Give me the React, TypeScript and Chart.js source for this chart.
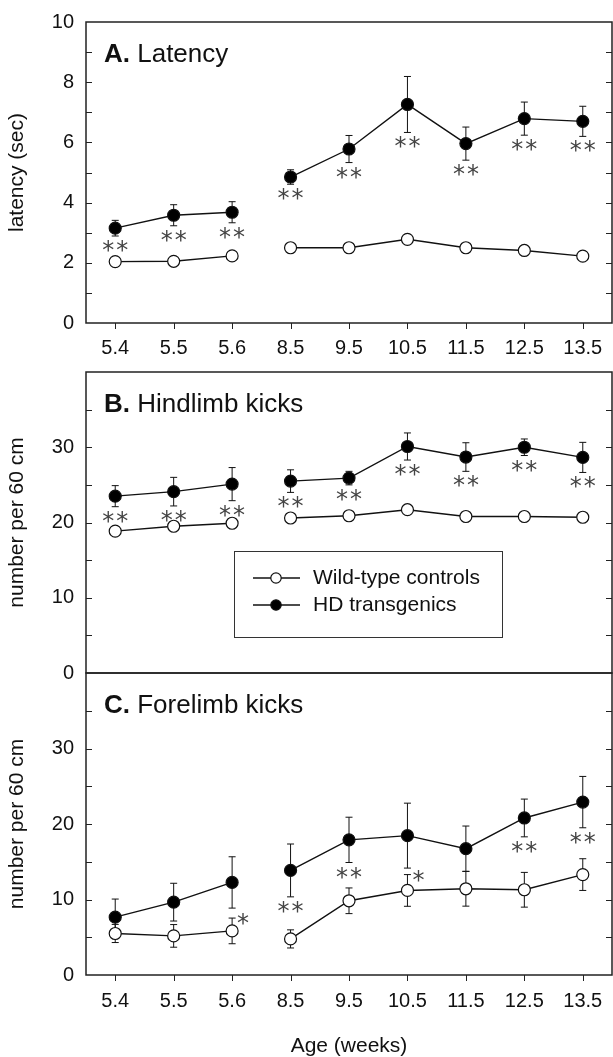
import React, { useEffect, useRef } from 'react';
import { Chart, registerables } from 'chart.js';

Chart.register(...registerables);

const FONT = '"Liberation Sans", Arial, Helvetica, sans-serif';
const STAR_FONT = '"DejaVu Sans", sans-serif';
const INK = '#111';

// ---------------- data ----------------
const ages = ['5.4', '5.5', '5.6', '8.5', '9.5', '10.5', '11.5', '12.5', '13.5'];
const breakAfterIndex = 2; // lines are not joined between 5.6 and 8.5
const seriesNames = ['Wild-type controls', 'HD transgenics'];

const latencyTickLabels = ['0', '2', '4', '6', '8', '10'];
const countTickLabels = ['0', '10', '20', '30'];

// A. Latency
const latencyWT = [2.04, 2.05, 2.23, 2.5, 2.5, 2.78, 2.5, 2.41, 2.22];
const latencyWTErr = [0.08, 0.08, 0.1, 0.1, 0.1, 0.15, 0.12, 0.1, 0.1];
const latencyHD = [3.15, 3.58, 3.68, 4.85, 5.78, 7.26, 5.96, 6.79, 6.7];
const latencyHDErr = [0.26, 0.35, 0.35, 0.24, 0.45, 0.93, 0.55, 0.55, 0.5];
const latencyStarsHD = ['**', '**', '**', '**', '**', '**', '**', '**', '**'];
const latencyStarsWT = ['', '', '', '', '', '', '', '', ''];

// B. Hindlimb kicks
const hindWT = [18.85, 19.5, 19.9, 20.6, 20.9, 21.7, 20.8, 20.8, 20.7];
const hindWTErr = [0.4, 0.4, 0.4, 0.4, 0.4, 0.5, 0.4, 0.4, 0.4];
const hindHD = [23.5, 24.1, 25.1, 25.5, 25.9, 30.1, 28.7, 30.0, 28.65];
const hindHDErr = [1.4, 1.9, 2.2, 1.5, 0.9, 1.8, 1.9, 1.1, 2.0];
const hindStarsHD = ['**', '**', '**', '**', '**', '**', '**', '**', '**'];
const hindStarsWT = ['', '', '', '', '', '', '', '', ''];

// C. Forelimb kicks
const foreWT = [5.5, 5.18, 5.84, 4.78, 9.83, 11.2, 11.42, 11.29, 13.3];
const foreWTErr = [1.2, 1.5, 1.7, 1.2, 1.7, 2.1, 2.3, 2.3, 2.1];
const foreHD = [7.66, 9.65, 12.26, 13.85, 17.9, 18.46, 16.73, 20.8, 22.9];
const foreHDErr = [2.4, 2.5, 3.4, 3.5, 3.0, 4.3, 3.0, 2.5, 3.4];
const foreStarsHD = ['', '', '', '**', '**', '', '', '**', '**'];
const foreStarsWT = ['', '', '*', '', '', '*', '', '', ''];

// ---------------- panels ----------------
type Panel = {
  key: string;
  letter: string;
  name: string;
  yTitle: string;
  yMax: number;
  yStep: number;
  tickLabels: string[];
  wt: number[];
  wtErr: number[];
  hd: number[];
  hdErr: number[];
  starsHD: string[];
  starsWT: string[];
  showX: boolean;
  xTitle: string | null;
  legend: boolean;
  box: { top: number; height: number; padTop: number; padBottom: number; xAxisHeight: number; xGap: number };
};

const panels: Panel[] = [
  {
    key: 'A', letter: 'A.', name: 'Latency', yTitle: 'latency (sec)', yMax: 10, yStep: 1,
    tickLabels: latencyTickLabels, wt: latencyWT, wtErr: latencyWTErr, hd: latencyHD, hdErr: latencyHDErr,
    starsHD: latencyStarsHD, starsWT: latencyStarsWT, showX: true, xTitle: null, legend: false,
    box: { top: 0, height: 360, padTop: 22, padBottom: 0, xAxisHeight: 37, xGap: 13 },
  },
  {
    key: 'B', letter: 'B.', name: 'Hindlimb kicks', yTitle: 'number per 60 cm', yMax: 40, yStep: 5,
    tickLabels: countTickLabels, wt: hindWT, wtErr: hindWTErr, hd: hindHD, hdErr: hindHDErr,
    starsHD: hindStarsHD, starsWT: hindStarsWT, showX: false, xTitle: null, legend: true,
    box: { top: 360, height: 330, padTop: 12, padBottom: 17, xAxisHeight: 0, xGap: 0 },
  },
  {
    key: 'C', letter: 'C.', name: 'Forelimb kicks', yTitle: 'number per 60 cm', yMax: 40, yStep: 5,
    tickLabels: countTickLabels, wt: foreWT, wtErr: foreWTErr, hd: foreHD, hdErr: foreHDErr,
    starsHD: foreStarsHD, starsWT: foreStarsWT, showX: true, xTitle: 'Age (weeks)', legend: false,
    box: { top: 660, height: 397, padTop: 13, padBottom: 0, xAxisHeight: 82, xGap: 14 },
  },
];

// ---------------- drawing helpers ----------------
function drawErrorBars(chart: any, values: number[], errs: number[]) {
  const { ctx, scales: { x, y } } = chart;
  ctx.save();
  ctx.strokeStyle = INK;
  ctx.lineWidth = 1;
  values.forEach((v, i) => {
    const px = x.getPixelForValue(i);
    const hi = y.getPixelForValue(v + errs[i]);
    const lo = y.getPixelForValue(v - errs[i]);
    ctx.beginPath();
    ctx.moveTo(px, hi);
    ctx.lineTo(px, lo);
    ctx.moveTo(px - 3.5, hi);
    ctx.lineTo(px + 3.5, hi);
    ctx.moveTo(px - 3.5, lo);
    ctx.lineTo(px + 3.5, lo);
    ctx.stroke();
  });
  ctx.restore();
}

function drawStars(ctx: CanvasRenderingContext2D, text: string, cx: number, cy: number) {
  ctx.font = `24px ${STAR_FONT}`;
  ctx.textAlign = 'center';
  ctx.textBaseline = 'alphabetic';
  ctx.fillStyle = '#444';
  const m = ctx.measureText('*');
  const base = cy + (m.actualBoundingBoxAscent - m.actualBoundingBoxDescent) / 2;
  const n = text.length;
  const gap = 14;
  for (let k = 0; k < n; k++) {
    const sx = cx + (k - (n - 1) / 2) * gap;
    ctx.fillText('*', sx, base);
  }
}

function drawMarker(ctx: CanvasRenderingContext2D, cx: number, cy: number, r: number, fill: string) {
  ctx.beginPath();
  ctx.arc(cx, cy, r, 0, Math.PI * 2);
  ctx.fillStyle = fill;
  ctx.fill();
  ctx.lineWidth = 1.2;
  ctx.strokeStyle = INK;
  ctx.stroke();
}

function makePlugin(p: Panel) {
  return {
    id: 'panelDecor' + p.key,
    beforeDatasetsDraw(chart: any) {
      drawErrorBars(chart, p.wt, p.wtErr);
      drawErrorBars(chart, p.hd, p.hdErr);
    },
    afterDatasetsDraw(chart: any) {
      const { ctx, chartArea, scales: { x, y } } = chart;
      const { left, right, top, bottom } = chartArea;
      ctx.save();

      // frame
      ctx.strokeStyle = '#222';
      ctx.lineWidth = 1.5;
      ctx.strokeRect(left, top, right - left, bottom - top);

      // inward y ticks on both sides
      ctx.lineWidth = 1;
      y.ticks.forEach((t: any) => {
        if (t.value <= y.min || t.value >= y.max) return;
        const py = Math.round(y.getPixelForValue(t.value)) + 0.5;
        ctx.beginPath();
        ctx.moveTo(left, py);
        ctx.lineTo(left + 6, py);
        ctx.moveTo(right, py);
        ctx.lineTo(right - 6, py);
        ctx.stroke();
      });

      // outward x ticks
      if (p.showX) {
        ages.forEach((_, i) => {
          const px = Math.round(x.getPixelForValue(i)) + 0.5;
          ctx.beginPath();
          ctx.moveTo(px, bottom);
          ctx.lineTo(px, bottom + 6);
          ctx.stroke();
        });
      }

      // panel title
      ctx.fillStyle = INK;
      ctx.textAlign = 'left';
      ctx.textBaseline = 'alphabetic';
      ctx.font = `bold 26px ${FONT}`;
      ctx.fillText(p.letter, left + 18, top + 40);
      const lw = ctx.measureText(p.letter + ' ').width;
      ctx.font = `26px ${FONT}`;
      ctx.fillText(p.name, left + 18 + lw, top + 40);

      // significance stars
      p.starsHD.forEach((s, i) => {
        if (!s) return;
        const px = x.getPixelForValue(i);
        const py = y.getPixelForValue(p.hd[i] - p.hdErr[i]) + 10;
        drawStars(ctx, s, px, py);
      });
      p.starsWT.forEach((s, i) => {
        if (!s) return;
        const px = x.getPixelForValue(i) + 11;
        const py = y.getPixelForValue(p.wt[i] + p.wtErr[i]) + 1;
        drawStars(ctx, s, px, py);
      });

      // legend
      if (p.legend) {
        const bx = left + 148;
        const by = top + 179;
        const bw = 268;
        const bh = 86;
        ctx.lineWidth = 1;
        ctx.strokeStyle = '#333';
        ctx.strokeRect(Math.round(bx) + 0.5, Math.round(by) + 0.5, bw, bh);
        const fills = ['#fff', '#000'];
        seriesNames.forEach((name, k) => {
          const ry = by + 27 + k * 27;
          ctx.beginPath();
          ctx.lineWidth = 1.5;
          ctx.strokeStyle = INK;
          ctx.moveTo(bx + 19, ry);
          ctx.lineTo(bx + 66, ry);
          ctx.stroke();
          drawMarker(ctx, bx + 42, ry, 5.2, fills[k]);
          ctx.fillStyle = INK;
          ctx.font = `21px ${FONT}`;
          ctx.textAlign = 'left';
          ctx.textBaseline = 'middle';
          ctx.fillText(name, bx + 79, ry);
        });
      }
      ctx.restore();
    },
  };
}

function PanelChart({ panel }: { panel: Panel }) {
  const ref = useRef<HTMLCanvasElement>(null);
  useEffect(() => {
    const p = panel;
    const seg = {
      borderColor: (c: any) => (c.p0DataIndex === breakAfterIndex ? 'rgba(0,0,0,0)' : INK),
    };
    const common = {
      borderColor: INK,
      borderWidth: 1.4,
      pointRadius: 6,
      pointHoverRadius: 6,
      pointBorderWidth: 1.2,
      pointBorderColor: INK,
      tension: 0,
      fill: false,
      segment: seg,
    };
    const chart = new Chart(ref.current as HTMLCanvasElement, {
      type: 'line',
      data: {
        labels: ages,
        datasets: [
          { ...common, label: seriesNames[0], data: p.wt, pointBackgroundColor: '#fff' },
          { ...common, label: seriesNames[1], data: p.hd, pointBackgroundColor: '#000' },
        ],
      },
      options: {
        responsive: false,
        animation: false,
        devicePixelRatio: 1,
        events: [],
        layout: {
          autoPadding: false,
          padding: { top: p.box.padTop, left: 0, right: 1, bottom: p.box.padBottom },
        },
        plugins: { legend: { display: false }, tooltip: { enabled: false } },
        scales: {
          x: {
            type: 'category',
            offset: true,
            display: p.showX,
            grid: { display: false, drawTicks: true, tickLength: p.box.xGap },
            border: { display: false },
            ticks: {
              padding: 0,
              font: { size: 20, family: FONT },
              color: INK,
              maxRotation: 0,
              autoSkip: false,
            },
            title: p.xTitle
              ? { display: true, text: p.xTitle, font: { size: 21, family: FONT, lineHeight: 1 }, color: INK, padding: 0 }
              : { display: false },
            afterFit: (s: any) => {
              if (p.showX) s.height = p.box.xAxisHeight;
            },
          },
          y: {
            min: 0,
            max: p.yMax,
            grid: { display: false, drawTicks: true, tickLength: 12 },
            border: { display: false },
            ticks: {
              stepSize: p.yStep,
              padding: 0,
              autoSkip: false,
              font: { size: 20, family: FONT },
              color: INK,
              callback: (v: any) => (p.tickLabels.includes(String(v)) ? String(v) : ''),
            },
            title: {
              display: true,
              text: p.yTitle,
              font: { size: 21, family: FONT, lineHeight: 1.2 },
              color: INK,
              padding: { top: 5, bottom: 0 },
            },
            afterFit: (s: any) => {
              s.width = 86;
            },
          },
        },
      } as any,
      plugins: [makePlugin(p)],
    });
    return () => chart.destroy();
  }, [panel]);
  return (
    <canvas
      ref={ref}
      width={613}
      height={panel.box.height}
      style={{ position: 'absolute', left: 0, top: panel.box.top, width: 613, height: panel.box.height }}
    />
  );
}

export default function App() {
  return (
    <div
      style={{
        position: 'absolute',
        left: 0,
        top: 0,
        width: 613,
        height: 1057,
        background: '#fff',
        overflow: 'hidden',
      }}
    >
      {panels.map((p) => (
        <PanelChart key={p.key} panel={p} />
      ))}
    </div>
  );
}
